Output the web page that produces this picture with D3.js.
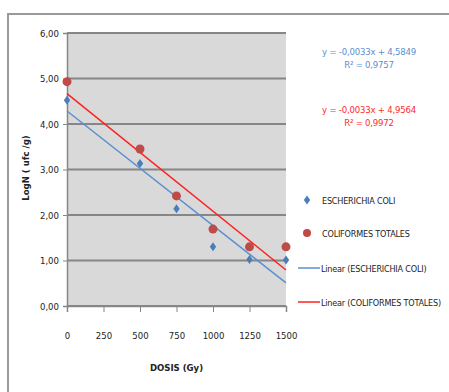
<!DOCTYPE html>
<html>
<head>
<meta charset="utf-8">
<script src="https://cdn.jsdelivr.net/npm/d3@7"></script>
<style>
  body { margin: 0; background: #fff; }
  svg text { font-family: "Liberation Sans Narrow", "DejaVu Sans Condensed", "Liberation Sans", Arial, sans-serif; font-stretch: condensed; }
</style>
</head>
<body>
<svg id="viz" width="449" height="392"></svg>
<script>
// dose values (Gy)
var dosis = [0, 500, 750, 1000, 1250, 1500];
// LogN (ufc/g)
var ecoli = [4.52, 3.13, 2.14, 1.30, 1.02, 1.01];
var coliformes = [4.93, 3.45, 2.42, 1.69, 1.30, 1.30];
var xTicks = [0, 250, 500, 750, 1000, 1250, 1500];
var yTicks = [0, 1, 2, 3, 4, 5, 6];
var eqEcoli = ["y = -0,0033x + 4,5849", "R² = 0,9757"];
var eqColi = ["y = -0,0033x + 4,9564", "R² = 0,9972"];
var legendNames = ["ESCHERICHIA COLI", "COLIFORMES TOTALES", "Linear (ESCHERICHIA COLI)", "Linear (COLIFORMES TOTALES)"];

var blue = "#4a7ebb", red = "#be4b48";
var blueLine = "#5b8fd0", redLine = "#ff2020";

var svg = d3.select("#viz");
var pLeft = 67, pRight = 286, pTop = 33, pBottom = 306;

var x = d3.scaleLinear().domain([0, 1500]).range([pLeft, pRight]);
var y = d3.scaleLinear().domain([0, 6]).range([pBottom, pTop]);

// outer chart border
svg.append("rect").attr("x", 8).attr("y", 14).attr("width", 460).attr("height", 400)
  .attr("fill", "none").attr("stroke", "#9a9a9a").attr("stroke-width", 2);

// plot area
svg.append("rect").attr("x", pLeft).attr("y", pTop).attr("width", pRight - pLeft).attr("height", pBottom - pTop)
  .attr("fill", "#d9d9d9");

// gridlines
svg.append("g").selectAll("line").data(yTicks).enter().append("line")
  .attr("x1", pLeft).attr("x2", pRight)
  .attr("y1", function(d) { return y(d); }).attr("y2", function(d) { return y(d); })
  .attr("stroke", "#868686").attr("stroke-width", 2);

// y axis
var yAxis = d3.axisLeft(y).tickValues(yTicks).tickSize(4)
  .tickFormat(function(d) { return d3.format(".2f")(d).replace(".", ","); });
var gy = svg.append("g").attr("transform", "translate(" + pLeft + ",0)").call(yAxis);
gy.select(".domain").attr("stroke", "#868686").attr("stroke-width", 1.5);
gy.selectAll(".tick line").attr("stroke", "#868686");
gy.selectAll("text").attr("font-size", 9.5).attr("fill", "#222").attr("x", -8);

// x axis
var xAxis = d3.axisBottom(x).tickValues(xTicks).tickSize(6).tickFormat(d3.format("d"));
var gx = svg.append("g").attr("transform", "translate(0," + pBottom + ")").call(xAxis);
gx.select(".domain").attr("stroke", "#868686").attr("stroke-width", 1.5);
gx.selectAll(".tick line").attr("stroke", "#868686");
gx.selectAll("text").attr("font-size", 9.5).attr("fill", "#222").attr("dy", 0).attr("y", 33);

// axis titles
svg.append("text").attr("x", (pLeft + pRight) / 2).attr("y", 371).attr("text-anchor", "middle")
  .attr("font-size", 9.5).attr("font-weight", "bold").attr("fill", "#222").text("DOSIS (Gy)");
svg.append("text").attr("transform", "translate(29,168) rotate(-90)").attr("text-anchor", "middle")
  .attr("font-size", 9.5).attr("font-weight", "bold").attr("fill", "#222").text("LogN ( ufc /g)");

// least squares trendline from data
function fit(xs, ys) {
  var mx = d3.mean(xs), my = d3.mean(ys);
  var sxy = d3.sum(xs, function(v, i) { return (v - mx) * (ys[i] - my); });
  var sxx = d3.sum(xs, function(v) { return (v - mx) * (v - mx); });
  var b = sxy / sxx;
  return { b: b, a: my - b * mx };
}
function trend(vals, color) {
  var f = fit(dosis, vals);
  svg.append("line")
    .attr("x1", x(0)).attr("y1", y(f.a))
    .attr("x2", x(1500)).attr("y2", y(f.a + f.b * 1500))
    .attr("stroke", color).attr("stroke-width", 1.5);
}
trend(ecoli, blueLine);
trend(coliformes, redLine);

// diamond marker shape
var diamond = "M0,-4.5L3.2,0L0,4.5L-3.2,0Z";

// points
svg.append("g").selectAll("circle").data(coliformes).enter().append("circle")
  .attr("cx", function(d, i) { return x(dosis[i]); })
  .attr("cy", function(d) { return y(d); })
  .attr("r", 4.5).attr("fill", red);
svg.append("g").selectAll("path").data(ecoli).enter().append("path")
  .attr("d", diamond)
  .attr("transform", function(d, i) { return "translate(" + x(dosis[i]) + "," + y(d) + ")"; })
  .attr("fill", blue);

// equations
function eq(lines, yy, color) {
  svg.append("g").selectAll("text").data(lines).enter().append("text")
    .attr("x", 369).attr("y", function(d, i) { return yy + i * 13; })
    .attr("text-anchor", "middle").attr("font-size", 9.5).attr("letter-spacing", -0.2)
    .attr("fill", color)
    .text(function(d) { return d; });
}
eq(eqEcoli, 55, "#5b8fd0");
eq(eqColi, 113, "#ff2a2a");

// legend
var lg = svg.append("g").attr("font-size", 9).attr("letter-spacing", -0.2).attr("fill", "#222");
var ly = [200, 233, 268, 302];
lg.append("path").attr("d", diamond)
  .attr("transform", "translate(307," + ly[0] + ")").attr("fill", blue);
lg.append("circle").attr("cx", 307).attr("cy", ly[1]).attr("r", 4).attr("fill", red);
lg.append("line").attr("x1", 298).attr("x2", 320).attr("y1", ly[2]).attr("y2", ly[2])
  .attr("stroke", blueLine).attr("stroke-width", 1.5);
lg.append("line").attr("x1", 298).attr("x2", 320).attr("y1", ly[3]).attr("y2", ly[3])
  .attr("stroke", redLine).attr("stroke-width", 1.5);
lg.selectAll("text").data(legendNames).enter().append("text")
  .attr("x", function(d, i) { return i < 2 ? 322 : 321; })
  .attr("y", function(d, i) { return ly[i] + 3.5; })
  .text(function(d) { return d; });
</script>
</body>
</html>
